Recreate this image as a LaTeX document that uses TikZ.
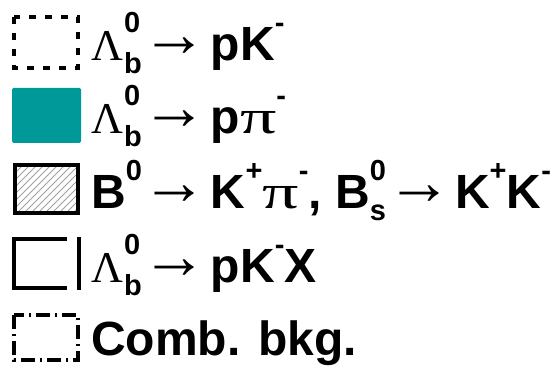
\documentclass[tikz,border=0pt]{standalone}
\usepackage{fontspec}
\setmainfont{Liberation Sans}
\newfontfamily\greekfont{Liberation Serif}
\definecolor{legteal}{RGB}{0,153,153}
\definecolor{leghatch}{RGB}{160,160,160}
\tikzset{
  legbox/.style={line width=4pt,line cap=butt,draw=black},
  legtext/.style={anchor=base west,inner sep=0pt,
                  font=\fontsize{48}{50}\selectfont\bfseries},
}
\newcommand{\gkL}{{\greekfont\mdseries\fontsize{44}{44}\selectfont Λ}\kern1pt}
\newcommand{\gkpi}{{\greekfont\mdseries\fontsize{48}{48}\selectfont\scalebox{1.5}[1]{π}}}
\newcommand{\legarr}{{\greekfont\mdseries\fontsize{66}{66}\selectfont\raisebox{4pt}{→}}\kern3pt}
\newcommand{\legsup}[1]{\raisebox{28pt}{\fontsize{29}{29}\selectfont #1}}
\newcommand{\legsub}[1]{\raisebox{-13pt}{\fontsize{29}{29}\selectfont #1}}
\newcommand{\legsupsub}[2]{\rlap{\legsup{#1}}\legsub{#2}}
\begin{document}
\begin{tikzpicture}[x=1pt,y=-1pt]
  \useasboundingbox (0,0) rectangle (554,366);
  % symbols
  \draw[legbox,dash pattern=on 7pt off 9pt] (14,17) rectangle (78,68);
  \fill[legteal,rounded corners=1.5pt] (12,88) rectangle (81,143);
  \begin{scope}
    \clip (15,165) rectangle (78,213);
    \foreach \s in {-60,-53,...,80}{
      \draw[leghatch,line width=0.9pt] (\s,213) -- ++(55,-55);
    }
  \end{scope}
  \draw[legbox] (15,165) rectangle (78,213);
  \draw[legbox] (67,239) -- (14,239) -- (14,288) -- (67,288);
  \draw[legbox] (79,237) -- (79,290);
  \draw[legbox,dash pattern=on 14pt off 5pt on 2pt off 5pt] (14,315) rectangle (78,360);
  % labels
  \node[legtext] (sig)   at (91,61)  {\gkL\legsupsub{0}{b}\legarr pK\legsup{-}};
  \node[legtext] (ppi)   at (91,134) {\gkL\legsupsub{0}{b}\legarr p\gkpi\legsup{-}};
  \node[legtext] (bhh)   at (91,208) {B\legsup{0}\legarr K\legsup{+}\gkpi\legsup{-}, B\legsupsub{0}{s}\legarr K\legsup{+}K\legsup{-}};
  \node[legtext] (pkx)   at (91,282) {\gkL\legsupsub{0}{b}\legarr pK\legsup{-}X};
  \node[legtext] (comb)  at (91,355) {Comb. bkg.};
\end{tikzpicture}
\end{document}
